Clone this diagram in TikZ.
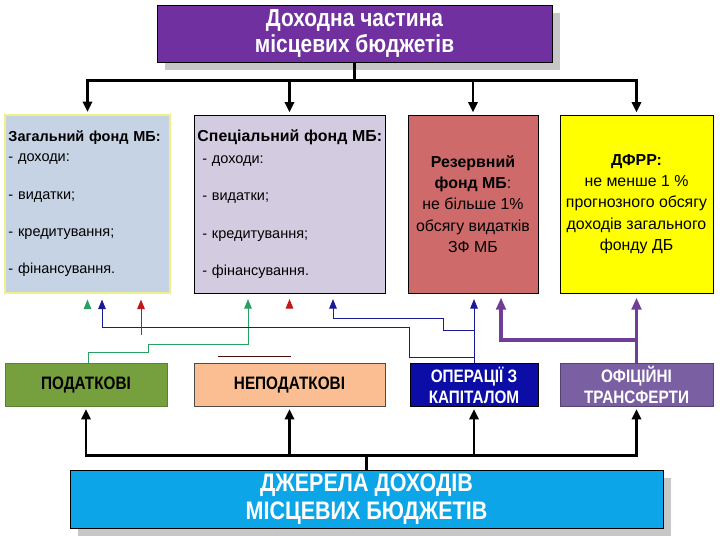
\documentclass[tikz,border=0pt]{standalone}
\usepackage{fontspec}
\setmainfont{Liberation Sans}
\newfontfamily\narrowfont[FakeStretch=0.85]{Liberation Sans}
\usepackage{tikz}
\usetikzlibrary{arrows.meta,positioning,calc,shadows}
\definecolor{headpurple}{RGB}{112,48,160}
\definecolor{fundblue}{RGB}{198,211,228}
\definecolor{fundlilac}{RGB}{211,204,224}
\definecolor{fundred}{RGB}{206,106,106}
\definecolor{fundyellow}{RGB}{255,255,0}
\definecolor{paleyellow}{RGB}{238,240,140}
\definecolor{srcgreen}{RGB}{118,160,62}
\definecolor{srcpeach}{RGB}{250,190,146}
\definecolor{srcnavy}{RGB}{12,12,166}
\definecolor{srcviolet}{RGB}{122,96,162}
\definecolor{srcsky}{RGB}{12,166,232}
\definecolor{lngreen}{RGB}{40,160,100}
\definecolor{lnblue}{RGB}{26,26,150}
\definecolor{lnred}{RGB}{192,24,24}
\definecolor{lnpurple}{RGB}{112,62,152}
\tikzset{
  box/.style={rectangle,draw=black,line width=0.6pt,inner sep=0pt,align=center},
  headbox/.style={box,fill=headpurple,text=white,
                  font=\narrowfont\bfseries\fontsize{17.5}{18}\selectfont,
                  drop shadow={shadow xshift=0.2cm,shadow yshift=-0.2cm,fill=black!22,opacity=1}},
  fundbox/.style={box,minimum height=4.45cm,inner xsep=0.08cm,align=left,
                  font=\fontsize{10.3}{14}\selectfont},
  pctbox/.style={box,minimum height=4.45cm,font=\fontsize{11.3}{15.2}\selectfont},
  srcbox/.style={box,minimum height=1.075cm,font=\narrowfont\bfseries\fontsize{12.8}{15}\selectfont},
  basebox/.style={box,fill=srcsky,text=white,
                  font=\narrowfont\bfseries\fontsize{18}{19.5}\selectfont,
                  drop shadow={shadow xshift=0.2cm,shadow yshift=-0.2cm,fill=black!22,opacity=1}},
  arr/.style={-{Triangle[length=2.6mm,width=2.3mm]},line width=2pt,shorten >=1.5pt},
  gln/.style={-{Triangle[length=2.4mm,width=1.9mm]},draw=lngreen,line width=0.7pt,shorten >=4pt},
  bln/.style={-{Triangle[length=2.4mm,width=1.9mm]},draw=lnblue,line width=0.7pt,shorten >=4pt},
  rln/.style={-{Triangle[length=2.4mm,width=1.9mm]},draw=lnred,line width=0.7pt,shorten >=4pt},
  pln/.style={-{Triangle[length=3mm,width=2.4mm]},draw=lnpurple,line width=2.6pt,shorten >=3pt},
}
\begin{document}
\begin{tikzpicture}[x=0.025cm,y=-0.025cm]
  \useasboundingbox (0,0) rectangle (720,540);
  % revenue part
  \node[headbox,minimum width=9.875cm,minimum height=1.425cm] (head) at (354.5,33.5)
    {Доходна частина\\місцевих бюджетів};
  % funds
  \node[fundbox,fill=fundblue,draw=paleyellow,line width=1.2pt,minimum width=4.125cm,text width=3.95cm] (zf) at (87.5,204)
    {\textbf{Загальний фонд МБ:}\\- доходи:\\[12.6pt]- видатки;\\[12.6pt]- кредитування;\\[12.6pt]- фінансування.};
  \node[fundbox,fill=fundlilac,minimum width=4.775cm,text width=4.6cm] (sf) at (289.5,204)
    {\mbox{\fontsize{11.3}{14}\selectfont\textbf{Спеціальний фонд МБ:}}\\[1.5pt]\ - доходи:\\[12.6pt]\ - видатки;\\[12.6pt]\ - кредитування;\\[12.6pt]\ - фінансування.};
  \node[pctbox,fill=fundred,minimum width=3.25cm] (rf) at (473,204)
    {\textbf{Резервний}\\\textbf{фонд МБ}:\\не більше 1\%\\обсягу видатків\\ЗФ МБ};
  \node[pctbox,fill=fundyellow,minimum width=3.825cm] (dfrr) at (636.5,204)
    {\textbf{ДФРР:}\\не менше 1 \%\\прогнозного обсягу\\доходів загального\\фонду ДБ};
  % sources
  \node[srcbox,fill=srcgreen,draw=srcgreen!80!black,minimum width=4.05cm] (tax) at (86,385) {ПОДАТКОВІ};
  \node[srcbox,fill=srcpeach,draw=black!70,minimum width=4.775cm] (ntax) at (289.5,385) {НЕПОДАТКОВІ};
  \node[srcbox,fill=srcnavy,text=white,minimum width=3.2cm] (cap) at (474,385) {ОПЕРАЦІЇ З\\КАПІТАЛОМ};
  \node[srcbox,fill=srcviolet,text=white,draw=srcviolet!70!black,minimum width=3.825cm] (trf) at (636.5,385) {ОФІЦІЙНІ\\ТРАНСФЕРТИ};
  \node[basebox,minimum width=14.825cm,minimum height=1.45cm] (base) at (366.5,499)
    {ДЖЕРЕЛА ДОХОДІВ\\МІСЦЕВИХ БЮДЖЕТІВ};
  % head to funds
  \draw[arr] (head.south) -- ++(0,18) -| (zf.north);
  \draw[arr] (head.south) -- ++(0,18) -| (sf.north);
  \draw[arr] (head.south) -- ++(0,18) -| (rf.north);
  \draw[arr] (head.south) -- ++(0,18) -| (dfrr.north);
  % base to sources
  \draw[arr] (base.north) -- ++(0,-14) -| (tax.south);
  \draw[arr] (base.north) -- ++(0,-14) -| (ntax.south);
  \draw[arr] (base.north) -- ++(0,-14) -| (cap.south);
  \draw[arr] (base.north) -- ++(0,-14) -| (trf.south);
  % thin links
  \coordinate (gA) at (148,352);
  \coordinate (gB) at (248,344);
  \coordinate (bA) at (409,357);
  \coordinate (bB) at (102,327);
  \coordinate (bC) at (443,330);
  \coordinate (bD) at (333,318);
  \coordinate (rA) at (141,335);
  \coordinate (rB) at (218,356);
  \coordinate (rC) at (291,356);
  \coordinate (pA) at (501,340);
  \draw[gln] ($(zf.south)+(0,14)$) -- (zf.south);
  \draw[gln] (tax.north -| 88,0) |- (gA) |- (gB) -- (gB |- sf.south);
  \draw[bln] (cap.north) -- (cap.north |- rf.south);
  \draw[bln] (cap.north |- bA) -- (bA) |- (bB) -- (bB |- zf.south);
  \draw[bln] (cap.north |- bC) -- (bC) |- (bD) -- (bD |- sf.south);
  \draw[rln] (rA) -- (rA |- zf.south);
  \draw[rln] ($(sf.south)+(0,14)$) -- (sf.south);
  \draw[draw=lnred!40!black,line width=0.7pt] (rB) -- (rC);
  \draw[pln] (trf.north) -- (dfrr.south);
  \draw[pln] (trf.north |- pA) -- (pA) -- (pA |- rf.south);
\end{tikzpicture}
\end{document}
